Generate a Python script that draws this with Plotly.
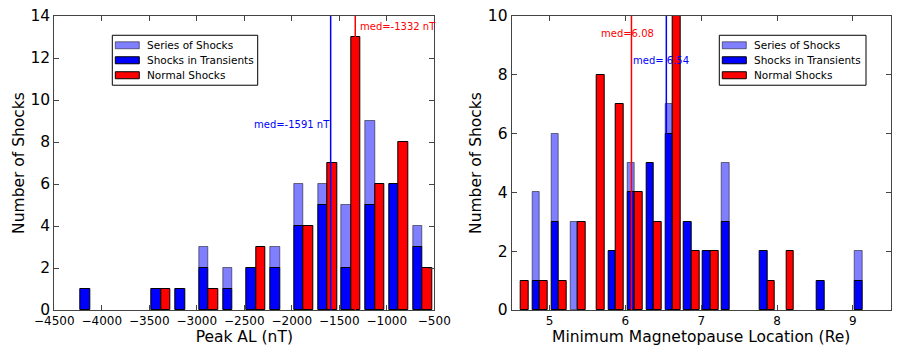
import numpy as np
import plotly.graph_objects as go

# ---------------- data ----------------
# Left panel: Peak AL histogram (bins of 250 nT starting at -4250)
al_bin_start = -4250
al_bin_width = 250
al_transients = [1, 0, 0, 1, 1, 2, 1, 2, 2, 4, 5, 2, 5, 6, 3]
al_series = [0, 0, 0, 0, 0, 1, 1, 0, 1, 2, 1, 3, 4, 0, 1]
al_normal = [0, 0, 0, 1, 0, 1, 0, 3, 0, 4, 7, 13, 6, 8, 2]
al_med_transients = -1591
al_med_normal = -1332

# Right panel: minimum magnetopause location histogram (bins of 0.25 Re from 4.5)
mp_bin_start = 4.5
mp_bin_width = 0.25
mp_transients = [0, 1, 3, 0, 0, 2, 4, 5, 6, 3, 2, 3, 0, 2, 0, 0, 1, 0, 1]
mp_series = [0, 3, 3, 3, 0, 0, 1, 0, 1, 0, 0, 2, 0, 0, 0, 0, 0, 0, 1]
mp_normal = [1, 1, 1, 3, 8, 7, 4, 3, 10, 2, 2, 0, 0, 1, 2, 0, 0, 0, 0]
mp_med_transients = 6.54
mp_med_normal = 6.08

left_xticks = [-4500, -4000, -3500, -3000, -2500, -2000, -1500, -1000, -500]
right_xticks = [5, 6, 7, 8, 9]
legend_names = ["Series of Shocks", "Shocks in Transients", "Normal Shocks"]

BLUE = "#0000ff"
RED = "#ff0000"
SERIES = "rgba(0,0,255,0.5)"
SERIES_EDGE = "rgba(0,0,0,0.5)"
FONT = "DejaVu Sans"
FRAME = "#444444"

# page is offset by the browser's default 8px body margin
OFF = 8
W, H = 900 - OFF, 351 - OFF
TOP_PX, BOT_PX = 15.7, 310.0          # plot area in page pixels
MT = TOP_PX - OFF
MB = H - (BOT_PX - OFF)
PLOT_H = H - MT - MB

fig = go.Figure()


def add_hist(start, width, trans, series, normal, xa, ya):
    n = len(trans)
    starts = start + width * np.arange(n)
    bw = 0.4 * width
    xb = starts + 0.3 * width
    xr = starts + 0.7 * width
    trans = np.array(trans)
    series = np.array(series)
    normal = np.array(normal)
    ms = series > 0
    fig.add_trace(go.Bar(
        x=xb[ms], y=series[ms], base=trans[ms], width=bw,
        marker=dict(color=SERIES, line=dict(color=SERIES_EDGE, width=1)),
        name=legend_names[0], xaxis=xa, yaxis=ya, showlegend=False))
    mt = trans > 0
    fig.add_trace(go.Bar(
        x=xb[mt], y=trans[mt], width=bw,
        marker=dict(color=BLUE, line=dict(color="black", width=1)),
        name=legend_names[1], xaxis=xa, yaxis=ya, showlegend=False))
    mn = normal > 0
    fig.add_trace(go.Bar(
        x=xr[mn], y=normal[mn], width=bw,
        marker=dict(color=RED, line=dict(color="black", width=1)),
        name=legend_names[2], xaxis=xa, yaxis=ya, showlegend=False))


add_hist(al_bin_start, al_bin_width, al_transients, al_series, al_normal, "x", "y")
add_hist(mp_bin_start, mp_bin_width, mp_transients, mp_series, mp_normal, "x2", "y2")

# median lines
for xv, col, xr_, yr_ in [
    (al_med_transients, BLUE, "x", "y domain"),
    (al_med_normal, RED, "x", "y domain"),
    (mp_med_transients, BLUE, "x2", "y2 domain"),
    (mp_med_normal, RED, "x2", "y2 domain"),
]:
    fig.add_shape(type="line", x0=xv, x1=xv, y0=0, y1=1, xref=xr_, yref=yr_,
                  line=dict(color=col, width=1.5), layer="above")

ann_font = dict(family=FONT, size=10)
fig.add_annotation(x=al_med_transients, y=8.84, xref="x", yref="y",
                   text=f"med={al_med_transients} nT", showarrow=False,
                   xanchor="right", yanchor="middle", xshift=1,
                   font=dict(ann_font, color=BLUE))
fig.add_annotation(x=al_med_normal + 26, y=13.48, xref="x", yref="y",
                   text=f"med={al_med_normal} nT", showarrow=False,
                   xanchor="left", yanchor="middle",
                   font=dict(ann_font, color=RED))
fig.add_annotation(x=mp_med_normal - 0.05, y=9.40, xref="x2", yref="y2",
                   text=f"med={mp_med_normal:.2f}", showarrow=False,
                   xanchor="center", yanchor="middle",
                   font=dict(ann_font, color=RED))
fig.add_annotation(x=mp_med_transients - 0.07, y=8.49, xref="x2", yref="y2",
                   text=f"med= {mp_med_transients:.2f}", showarrow=False,
                   xanchor="center", yanchor="middle",
                   font=dict(ann_font, color=BLUE))


# ---- manual legends (matplotlib-style wide patches), page-pixel positions ----
def px_x(p):
    return (p - OFF) / W


def px_y(p):
    return (BOT_PX - p) / PLOT_H


def add_legend(left_px, right_px, top_px=35, bottom_px=85):
    fig.add_shape(type="rect", xref="paper", yref="paper",
                  x0=px_x(left_px), x1=px_x(right_px),
                  y0=px_y(bottom_px), y1=px_y(top_px),
                  line=dict(color="black", width=1), fillcolor="white", layer="above")
    fills = [(SERIES, SERIES_EDGE), (BLUE, "black"), (RED, "black")]
    for i, (name, (fc, ec)) in enumerate(zip(legend_names, fills)):
        cy = 45 + 15 * i
        fig.add_shape(type="rect", xref="paper", yref="paper",
                      x0=px_x(left_px + 3), x1=px_x(left_px + 27),
                      y0=px_y(cy + 3.5), y1=px_y(cy - 3.5),
                      line=dict(color=ec, width=1), fillcolor=fc, layer="above")
        fig.add_annotation(x=px_x(left_px + 33), y=px_y(cy), xref="paper", yref="paper",
                           text=name, showarrow=False, xanchor="left", yanchor="middle",
                           font=dict(family=FONT, size=10.5, color="black"))


add_legend(112.3, 257.7)
add_legend(719.3, 866.0)

axis_common = dict(showline=True, linecolor=FRAME, linewidth=1, mirror="ticks",
                   ticks="inside", ticklen=5, tickcolor=FRAME, showgrid=False,
                   zeroline=False, automargin=False, ticklabeloverflow="allow",
                   tickfont=dict(family=FONT, size=12, color="black"),
                   title_font=dict(family=FONT, size=15.5, color="black"))
ytickfont = dict(family=FONT, size=15.5, color="black")

fig.update_layout(
    width=W, height=H,
    margin=dict(l=0, r=0, t=MT, b=MB, pad=0),
    paper_bgcolor="white", plot_bgcolor="white",
    barmode="overlay", bargap=0,
    font=dict(family=FONT, color="black"),
    showlegend=False,
    xaxis=dict(axis_common, domain=[px_x(54.3), px_x(434.3)], range=[-4500, -500],
               tickvals=left_xticks, title=dict(text="Peak AL (nT)", standoff=1)),
    yaxis=dict(axis_common, range=[0, 14], dtick=2, tickfont=ytickfont,
               title=dict(text="Number of Shocks", standoff=2)),
    xaxis2=dict(axis_common, domain=[px_x(511.7), px_x(890.7)], range=[4.5, 9.5],
                tickvals=right_xticks, anchor="y2",
                title=dict(text="Minimum Magnetopause Location (Re)", standoff=1)),
    yaxis2=dict(axis_common, range=[0, 10], dtick=2, anchor="x2", tickfont=ytickfont,
                title=dict(text="Number of Shocks", standoff=2)),
)

fig.write_html("out.html")
